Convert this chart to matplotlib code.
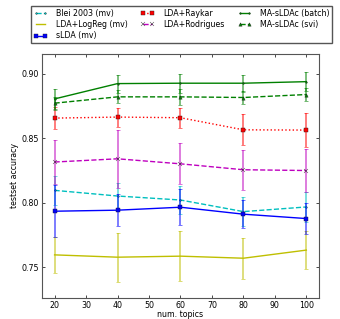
import numpy as np
import matplotlib
matplotlib.use('Agg')
from matplotlib import pyplot as plt

topics = [20, 40, 60, 80, 100]

names = ['Blei 2003 (mv)', 'LDA+LogReg (mv)', 'sLDA (mv)',
         'LDA+Raykar', 'LDA+Rodrigues', 'MA-sLDAc (batch)', 'MA-sLDAc (svi)']

blei = [0.8096, 0.8052, 0.8021, 0.7931, 0.7967]
blei_err = [0.011, 0.010, 0.011, 0.011, 0.012]

logreg = [0.7595, 0.7577, 0.7585, 0.7569, 0.7632]
logreg_err = [0.014, 0.019, 0.0196, 0.016, 0.015]

slda = [0.7934, 0.7942, 0.7965, 0.7911, 0.7877]
slda_err = [0.020, 0.0125, 0.014, 0.0107, 0.0123]

raykar = [0.8657, 0.8665, 0.8660, 0.8566, 0.8564]
raykar_err = [0.0086, 0.0074, 0.0077, 0.012, 0.0135]

rodrigues = [0.8316, 0.8341, 0.8302, 0.8256, 0.8250]
rodrigues_err = [0.017, 0.0225, 0.016, 0.0155, 0.0166]

batch = [0.8806, 0.8925, 0.8928, 0.8928, 0.8940]
batch_err = [0.0075, 0.007, 0.0075, 0.0065, 0.0075]

svi = [0.8773, 0.8822, 0.8822, 0.8817, 0.8840]
svi_err = [0.005, 0.005, 0.006, 0.005, 0.005]

plt.rcParams['font.size'] = 5.7
plt.rcParams['xtick.direction'] = 'in'
plt.rcParams['ytick.direction'] = 'in'
plt.rcParams['xtick.top'] = True
plt.rcParams['ytick.right'] = True
plt.rcParams['xtick.major.size'] = 2.5
plt.rcParams['ytick.major.size'] = 2.5
plt.rcParams['xtick.major.width'] = 0.5
plt.rcParams['ytick.major.width'] = 0.5

fig = plt.figure(figsize=(3.4, 3.19), dpi=100)
ax = fig.add_axes([0.1235, 0.0658, 0.8145, 0.765])

series = [
	(blei, blei_err, 'c', '--', '.'),
	(logreg, logreg_err, 'y', '-', ''),
	(slda, slda_err, 'b', '-', 's'),
	(raykar, raykar_err, 'r', ':', 's'),
	(rodrigues, rodrigues_err, 'm', '--', 'x'),
	(batch, batch_err, 'g', '-', '.'),
	(svi, svi_err, 'g', '--', '^'),
]

handles = []
for (vals, errs, c, ls, mk), name in zip(series, names):
	ax.errorbar(topics, vals, yerr=errs, fmt='none', ecolor=c, elinewidth=1.1,
	            capsize=1.5, capthick=0.6, alpha=0.65)
	h, = ax.plot(topics, vals, color=c, linestyle=ls, marker=mk, markersize=2.4,
	             mec='#222222', mew=0.3, lw=1.0, label=name)
	handles.append(h)

ax.set_xlim(16, 104)
ax.set_ylim(0.726, 0.9155)
ax.set_xticks([20, 30, 40, 50, 60, 70, 80, 90, 100])
ax.set_yticks([0.75, 0.80, 0.85, 0.90])
ax.set_xlabel('num. topics', labelpad=0)
ax.set_ylabel('testset accuracy', labelpad=1.5)
ax.tick_params(pad=2.5)
for s in ax.spines.values():
	s.set_color('#555555')
	s.set_linewidth(0.8)

fig.legend(handles=handles, ncol=3, loc='upper left', bbox_to_anchor=(0.079, 0.994),
           fontsize=5.7, numpoints=2, handlelength=1.7, columnspacing=1.7,
           fancybox=False, edgecolor='#555555', framealpha=1,
           borderpad=0.35, labelspacing=0.3, handletextpad=1.1)

fig.savefig('out.png', dpi=100)
